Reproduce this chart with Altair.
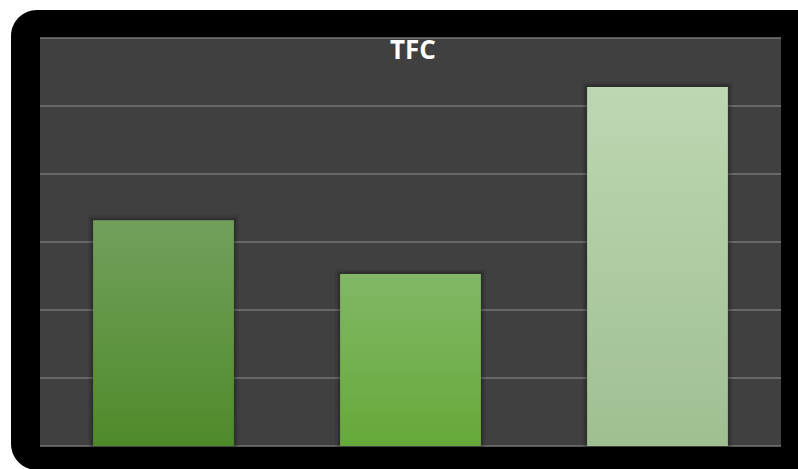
import altair as alt
import pandas as pd

# ---- data ----
categories = ["Sample 1", "Sample 2", "Sample 3"]
values = [3.32, 2.53, 5.28]
grid_ticks = [0, 1, 2, 3, 4, 5, 6]
chart_title = "TFC"

# ---- styles ----
top_colors = ["#72a05c", "#82b866", "#bdd7b2"]
bottom_colors = ["#4f8a2a", "#66a93a", "#9fbf91"]

W, H = 741, 408

df = pd.DataFrame({"category": categories, "value": values})
grid_df = pd.DataFrame({"tick": grid_ticks})
one = alt.Data(values=[{"k": 1}])

x_scale = alt.Scale(domain=categories, paddingInner=0.43, paddingOuter=0.215)
y_scale = alt.Scale(domain=[0, 6], nice=False, zero=True)

frame = alt.Chart(one).mark_rect(color="black", cornerRadius=26).encode(
    x=alt.value(-29), x2=alt.value(W + 80), y=alt.value(-28), y2=alt.value(H + 24)
)
panel = alt.Chart(one).mark_rect(color="#404040").encode(
    x=alt.value(0), x2=alt.value(W), y=alt.value(0), y2=alt.value(H)
)
grid = alt.Chart(grid_df).mark_rule(color="#767676", strokeWidth=1.5).encode(
    y=alt.Y("tick:Q", scale=y_scale, axis=None)
)

shadow_outer = alt.Chart(df).mark_bar(
    fill="black", fillOpacity=0, stroke="black", strokeOpacity=0.08, strokeWidth=10
).encode(
    x=alt.X("category:N", scale=x_scale, axis=None),
    y=alt.Y("value:Q", scale=y_scale, axis=None),
)
shadow_inner = alt.Chart(df).mark_bar(
    fill="black", fillOpacity=0, stroke="black", strokeOpacity=0.18, strokeWidth=5
).encode(
    x=alt.X("category:N", scale=x_scale, axis=None),
    y=alt.Y("value:Q", scale=y_scale, axis=None),
)

bars = []
for cat, c_top, c_bot in zip(categories, top_colors, bottom_colors):
    bars.append(
        alt.Chart(df)
        .transform_filter(alt.datum.category == cat)
        .mark_bar(
            color=alt.Gradient(
                gradient="linear",
                stops=[alt.GradientStop(color=c_top, offset=0), alt.GradientStop(color=c_bot, offset=1)],
                x1=0, x2=0, y1=0, y2=1,
            )
        )
        .encode(
            x=alt.X("category:N", scale=x_scale, axis=None),
            y=alt.Y("value:Q", scale=y_scale, axis=None),
        )
    )

title = alt.Chart(one).mark_text(
    text=chart_title, color="white", font="Open Sans", fontSize=26, fontWeight="bold",
    align="center", baseline="alphabetic",
).encode(x=alt.value(W / 2 + 2.5), y=alt.value(21))

chart = alt.layer(frame, panel, grid, shadow_outer, shadow_inner, *bars, title).properties(
    width=W,
    height=H,
    autosize=alt.AutoSizeParams(type="none"),
    padding={"left": 40, "top": 38, "right": 17, "bottom": 23},
    background="white",
).configure_view(strokeOpacity=0)

chart.save("out.html", embed_options={"renderer": "svg", "actions": False})
